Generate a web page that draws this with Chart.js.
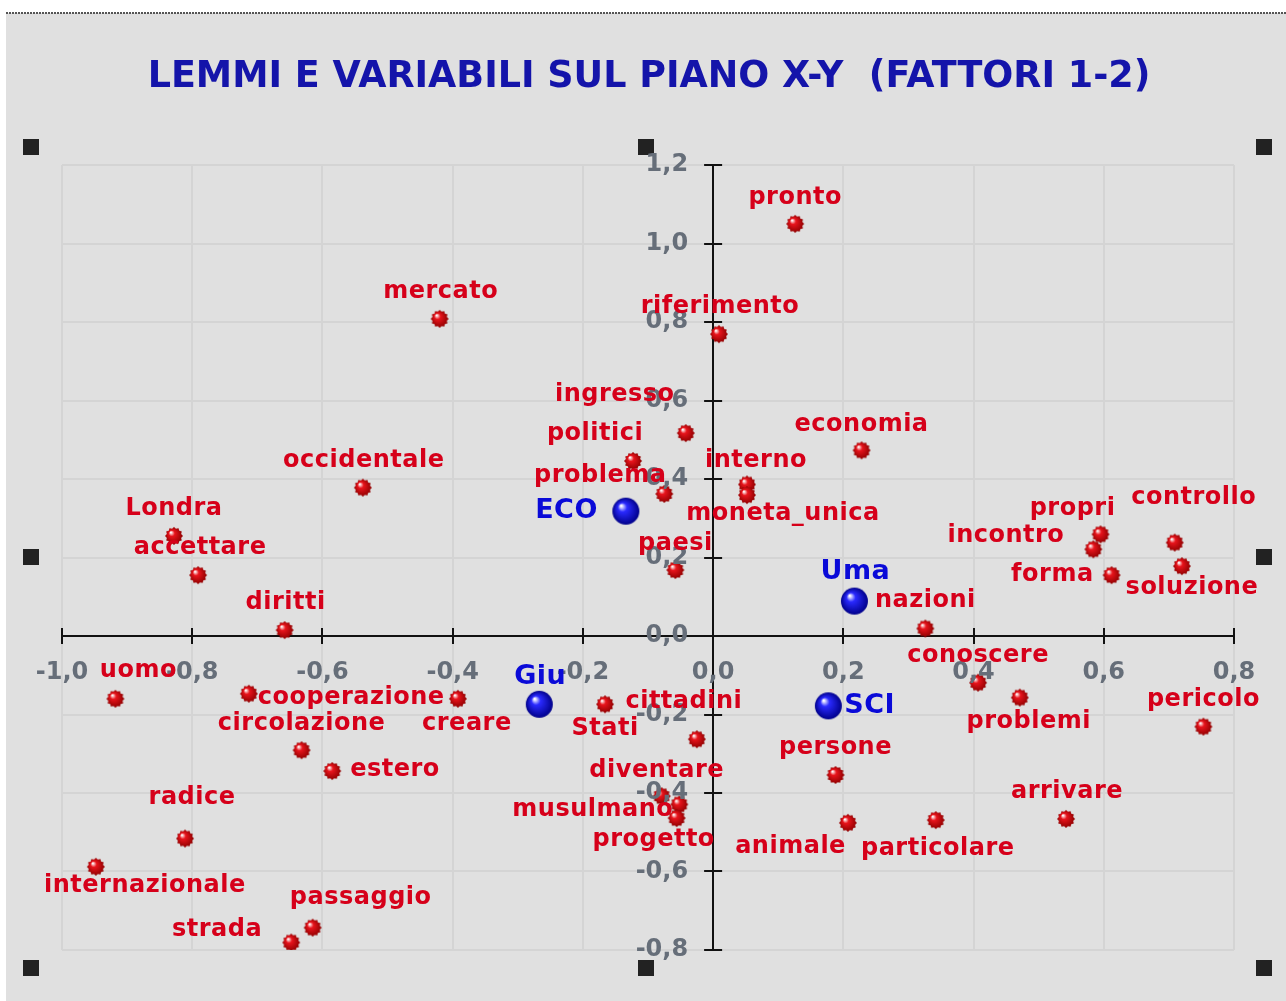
<!DOCTYPE html>
<html>
<head>
<meta charset="utf-8">
<title>Lemmi e variabili sul piano X-Y</title>
<script src="https://cdn.jsdelivr.net/npm/chart.js@4/dist/chart.umd.min.js"></script>
<style>
  html, body { margin: 0; padding: 0; background: #fff; }
  canvas { display: block; }
</style>
</head>
<body>
<canvas id="piano" width="1286" height="1001"></canvas>
<script>
// lemmi (punti rossi)
var lemmi = ['pronto', 'mercato', 'riferimento', 'ingresso', 'politici', 'economia',
  'interno', 'moneta_unica', 'problema', 'occidentale', 'Londra', 'accettare',
  'diritti', 'paesi', 'propri', 'incontro', 'controllo', 'soluzione', 'forma',
  'nazioni', 'conoscere', 'problemi', 'pericolo', 'arrivare', 'particolare',
  'animale', 'persone', 'Stati', 'cittadini', 'diventare', 'musulmano',
  'progetto', 'uomo', 'cooperazione', 'creare', 'circolazione', 'estero',
  'radice', 'internazionale', 'passaggio', 'strada'];
var lemmiX = [0.126, -0.420, 0.009, -0.042, -0.123, 0.228,
  0.052, 0.052, -0.075, -0.538, -0.828, -0.791,
  -0.658, -0.058, 0.595, 0.584, 0.709, 0.720, 0.612,
  0.326, 0.407, 0.471, 0.753, 0.542, 0.342,
  0.207, 0.188, -0.166, -0.025, -0.079, -0.052,
  -0.056, -0.918, -0.713, -0.392, -0.632, -0.585,
  -0.811, -0.948, -0.615, -0.648];
var lemmiY = [1.050, 0.808, 0.769, 0.517, 0.446, 0.473,
  0.386, 0.359, 0.362, 0.378, 0.255, 0.155,
  0.015, 0.168, 0.259, 0.221, 0.238, 0.178, 0.155,
  0.019, -0.119, -0.157, -0.231, -0.466, -0.469,
  -0.476, -0.354, -0.174, -0.263, -0.408, -0.429,
  -0.464, -0.160, -0.147, -0.160, -0.291, -0.344,
  -0.516, -0.588, -0.743, -0.781];

// variabili (punti blu)
var variabili = ['ECO', 'Uma', 'Giu', 'SCI'];
var variabiliX = [-0.134, 0.217, -0.267, 0.177];
var variabiliY = [0.318, 0.089, -0.174, -0.178];

// tick
var xTicks = [-1.0, -0.8, -0.6, -0.4, -0.2, 0.0, 0.2, 0.4, 0.6, 0.8];
var yTicks = [-0.8, -0.6, -0.4, -0.2, 0.0, 0.2, 0.4, 0.6, 0.8, 1.0, 1.2];

// posizione delle etichette rispetto al punto: [dx, dy, allineamento]
var posEtichette = {
  pronto: [0, -26, 'center'], mercato: [1, -27, 'center'], riferimento: [1, -27, 'center'],
  ingresso: [-71, -38, 'center'], politici: [-38, -27, 'center'], economia: [0, -26, 'center'],
  interno: [9, -24, 'center'], moneta_unica: [36, 19, 'center'], problema: [-64, -18, 'center'],
  occidentale: [1, -27, 'center'], Londra: [0, -27, 'center'], accettare: [2, -27, 'center'],
  diritti: [1, -27, 'center'], paesi: [0, -26, 'center'], propri: [-28, -26, 'center'],
  incontro: [-29, -13, 'right'], controllo: [19, -45, 'center'], soluzione: [10, 22, 'center'],
  forma: [-18, 0, 'right'], nazioni: [0, -28, 'center'], conoscere: [0, -27, 'center'],
  problemi: [9, 24, 'center'], pericolo: [0, -27, 'center'], arrivare: [1, -27, 'center'],
  particolare: [2, 29, 'center'], animale: [-2, 24, 'right'], persone: [0, -27, 'center'],
  Stati: [0, 24, 'center'], cittadini: [-13, -37, 'center'], diventare: [-5, -25, 'center'],
  musulmano: [-6, 5, 'right'], progetto: [-23, 22, 'center'], uomo: [23, -28, 'center'],
  cooperazione: [9, 4, 'left'], creare: [9, 25, 'center'], circolazione: [0, -26, 'center'],
  estero: [18, -1, 'left'], radice: [7, -41, 'center'], internazionale: [49, 19, 'center'],
  passaggio: [48, -30, 'center'], strada: [-29, -13, 'right'],
  ECO: [-28, 0, 'right'], Uma: [1, -29, 'center'], Giu: [1, -27, 'center'], SCI: [16, 0, 'left']
};

function fmt(v) {
  return v.toFixed(1).replace('.', ',');
}

function toPoints(xs, ys) {
  var pts = [];
  for (var i = 0; i < xs.length; i++) {
    pts.push({x: xs[i], y: ys[i]});
  }
  return pts;
}

// pallina con sfumatura (rossa con bordo dentellato, blu liscia)
function makeBall(r, spikes, light, mid, dark) {
  var c = document.createElement('canvas');
  var s = Math.ceil(r * 2 + 4);
  c.width = c.height = s;
  var g = c.getContext('2d');
  var cx = s / 2, cy = s / 2;
  var grad = g.createRadialGradient(cx - r * 0.35, cy - r * 0.4, r * 0.05, cx, cy, r);
  grad.addColorStop(0, light);
  grad.addColorStop(0.3, mid);
  grad.addColorStop(1, dark);
  g.fillStyle = grad;
  g.beginPath();
  if (spikes) {
    for (var i = 0; i < spikes * 2; i++) {
      var a = i * Math.PI / spikes;
      var rr = (i % 2) ? r * 0.82 : r;
      if (i == 0) g.moveTo(cx + rr * Math.cos(a), cy + rr * Math.sin(a));
      else g.lineTo(cx + rr * Math.cos(a), cy + rr * Math.sin(a));
    }
    g.closePath();
  } else {
    g.arc(cx, cy, r, 0, Math.PI * 2);
  }
  g.fill();
  return c;
}

var redBall = makeBall(9, 12, '#ffffff', '#e8141c', '#8c0000');
var blueBall = makeBall(13.5, 0, '#ffffff', '#2a2aff', '#00008a');

var labelFont = 'bold 24px "DejaVu Sans"';
var blueFont = 'bold 27px "DejaVu Sans"';
var tickFont = 'bold 24px "DejaVu Sans"';
var tickColor = '#666e79';

var decorPlugin = {
  id: 'decor',
  beforeDraw: function(chart) {
    var ctx = chart.ctx;
    ctx.save();
    ctx.fillStyle = '#ffffff';
    ctx.fillRect(0, 0, chart.width, chart.height);
    ctx.fillStyle = '#e0e0e0';
    ctx.fillRect(6, 13, chart.width - 6, chart.height - 13);
    // bordo tratteggiato in alto
    ctx.fillStyle = '#555';
    for (var x = 6; x < chart.width; x += 3) {
      ctx.fillRect(x, 12, 2, 2);
    }
    // titolo
    ctx.fillStyle = '#1414aa';
    ctx.font = 'bold 36.5px "DejaVu Sans"';
    ctx.textAlign = 'center';
    ctx.textBaseline = 'middle';
    ctx.fillText('LEMMI E VARIABILI SUL PIANO X-Y  (FATTORI 1-2)', 649, 78);
    // maniglie di selezione
    ctx.fillStyle = '#222';
    var hx = [31, 646, 1264], hy = [147, 557, 968];
    for (var i = 0; i < 3; i++) {
      for (var j = 0; j < 3; j++) {
        if (i == 1 && j == 1) continue;
        ctx.fillRect(hx[i] - 8, hy[j] - 8, 16, 16);
      }
    }
    ctx.restore();
  },
  afterDraw: function(chart) {
    var ctx = chart.ctx;
    var xs = chart.scales.x, ys = chart.scales.y;
    var x0 = xs.getPixelForValue(0), y0 = ys.getPixelForValue(0);
    ctx.save();
    // tacche a croce
    ctx.strokeStyle = '#111';
    ctx.lineWidth = 2;
    ctx.beginPath();
    xTicks.forEach(function(v) {
      var px = Math.round(xs.getPixelForValue(v));
      ctx.moveTo(px, y0 - 8);
      ctx.lineTo(px, y0 + 8);
    });
    yTicks.forEach(function(v) {
      var py = Math.round(ys.getPixelForValue(v));
      ctx.moveTo(x0 - 9, py);
      ctx.lineTo(x0 + 9, py);
    });
    ctx.stroke();
    // etichette dei tick
    ctx.font = tickFont;
    ctx.fillStyle = tickColor;
    ctx.textBaseline = 'middle';
    ctx.textAlign = 'center';
    xTicks.forEach(function(v) {
      ctx.fillText(fmt(v), xs.getPixelForValue(v), y0 + 37);
    });
    ctx.textAlign = 'right';
    yTicks.forEach(function(v) {
      ctx.fillText(fmt(v), x0 - 25, ys.getPixelForValue(v));
    });
    // etichette dei punti
    ctx.letterSpacing = '0.5px';
    chart.data.datasets.forEach(function(ds, di) {
      var meta = chart.getDatasetMeta(di);
      ctx.font = di == 0 ? labelFont : blueFont;
      ctx.fillStyle = di == 0 ? '#d6001a' : '#0a0ad8';
      meta.data.forEach(function(el, i) {
        var name = ds.names[i];
        var p = posEtichette[name] || [0, -26, 'center'];
        ctx.textAlign = p[2];
        ctx.fillText(name, el.x + p[0], el.y + p[1]);
      });
    });
    ctx.restore();
  }
};

var ctx = document.getElementById('piano').getContext('2d');
new Chart(ctx, {
  type: 'scatter',
  data: {
    datasets: [{
      label: 'lemmi',
      names: lemmi,
      data: toPoints(lemmiX, lemmiY),
      pointStyle: redBall,
      pointRadius: 9
    }, {
      label: 'variabili',
      names: variabili,
      data: toPoints(variabiliX, variabiliY),
      pointStyle: blueBall,
      pointRadius: 14
    }]
  },
  options: {
    responsive: false,
    animation: false,
    layout: {padding: {left: 62, right: 52, top: 165, bottom: 51}},
    plugins: {
      legend: {display: false},
      tooltip: {enabled: false},
      title: {display: false}
    },
    scales: {
      x: {
        type: 'linear',
        min: -1.0,
        max: 0.8,
        position: {y: 0},
        ticks: {display: false, stepSize: 0.2},
        grid: {color: '#d4d4d4', lineWidth: 2, drawTicks: false},
        border: {display: true, color: '#111', width: 2}
      },
      y: {
        type: 'linear',
        min: -0.8,
        max: 1.2,
        position: {x: 0},
        ticks: {display: false, stepSize: 0.2},
        grid: {color: '#d4d4d4', lineWidth: 2, drawTicks: false},
        border: {display: true, color: '#111', width: 2}
      }
    }
  },
  plugins: [decorPlugin]
});
</script>
</body>
</html>
